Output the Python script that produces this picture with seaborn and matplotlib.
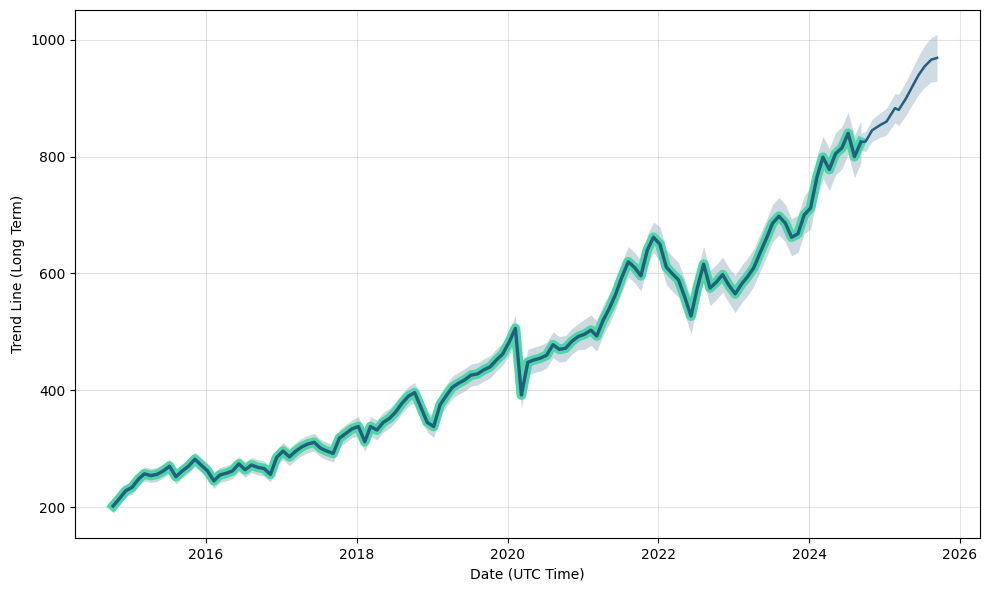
import numpy as np
import pandas as pd
import matplotlib
matplotlib.use("Agg")
import matplotlib.pyplot as plt
import matplotlib.dates as mdates
import seaborn as sns

# ---- historical (actual) values, one per month, Oct 2014 .. Sep 2024 ----
hist_values = [
    202, 215, 228,                                                  # 2014 Oct-Dec
    234, 248, 257, 254, 256, 262, 270, 252, 262, 270, 282, 272,     # 2015
    262, 245, 255, 258, 262, 274, 264, 272, 268, 266, 256, 285,     # 2016
    296, 286, 295, 303, 308, 311, 301, 296, 292, 318, 326, 334,     # 2017
    338, 312, 338, 332, 345, 352, 363, 378, 390, 396, 370, 345,     # 2018
    338, 375, 390, 405, 412, 418, 426, 428, 435, 440, 452, 462,     # 2019
    482, 506, 392, 448, 452, 455, 460, 478, 470, 472, 484, 492,     # 2020
    496, 503, 493, 520, 540, 565, 594, 620, 610, 596, 640, 662,     # 2021
    650, 611, 600, 589, 560, 527, 575, 616, 575, 585, 598, 580,     # 2022
    565, 582, 594, 610, 635, 660, 686, 698, 686, 662, 668, 700,     # 2023
    712, 765, 799, 778, 805, 815, 840, 800, 825,                    # 2024 Jan-Sep
]
hist_first_month = "2014-10-01"

# band half-width of the historical trend, per year
band_years = [2014, 2015, 2016, 2017, 2018, 2019, 2020, 2021, 2022, 2023, 2024]
band_half = [10, 12, 13, 15, 17, 19, 22, 26, 30, 32, 36]

# ---- forecast trend ----
fc_dates = ["2024-09-08", "2024-10-01", "2024-11-01", "2024-12-10", "2025-01-10",
            "2025-02-20", "2025-03-10", "2025-04-15", "2025-05-15", "2025-06-15",
            "2025-07-15", "2025-08-15", "2025-09-12"]
fc_values = [825, 826, 845, 854, 860, 883, 880, 900, 920, 940, 955, 966, 969]
fc_half = [15, 17, 19, 21, 23, 25, 27, 29, 31, 33, 36, 38, 40]

GREEN = "#4fd6a6"
DARK = "#215e80"
BAND = "#2a6283"

# ---- frames ----
hist_dates = pd.date_range(hist_first_month, periods=len(hist_values), freq="MS") + pd.Timedelta(days=7)
hist = pd.DataFrame({"date": hist_dates, "value": hist_values})
half_map = dict(zip(band_years, band_half))
hist["half"] = hist["date"].dt.year.map(half_map)

fc = pd.DataFrame({"date": pd.to_datetime(fc_dates), "value": fc_values, "half": fc_half})

fig, ax = plt.subplots(figsize=(9.88, 5.90), dpi=100)
fig.subplots_adjust(left=0.0759, right=0.9919, top=0.983, bottom=0.088)

# uncertainty band
ax.fill_between(hist["date"], hist["value"] - hist["half"], hist["value"] + hist["half"],
                color=BAND, alpha=0.24, lw=0)
ax.fill_between(fc["date"], fc["value"] - fc["half"], fc["value"] + fc["half"],
                color=BAND, alpha=0.22, lw=0)

# actual values (green, thick)
sns.lineplot(data=hist, x="date", y="value", ax=ax, color=GREEN, lw=7, estimator=None)
# trend line (dark)
sns.lineplot(data=hist, x="date", y="value", ax=ax, color=DARK, lw=2.4, estimator=None)
sns.lineplot(data=fc, x="date", y="value", ax=ax, color=DARK, lw=1.8, estimator=None)

ax.set_xlim(pd.Timestamp("2014-04-06"), pd.Timestamp("2026-04-08"))
ax.set_ylim(147, 1051)
ax.set_yticks([200, 400, 600, 800, 1000])
ax.xaxis.set_major_locator(mdates.YearLocator(2))
ax.xaxis.set_major_formatter(mdates.DateFormatter("%Y"))
ax.grid(True, color="#b0b0b0", alpha=0.35, lw=0.8)
ax.set_xlabel("Date (UTC Time)")
ax.set_ylabel("Trend Line (Long Term)")

fig.savefig("out.png", dpi=100)
